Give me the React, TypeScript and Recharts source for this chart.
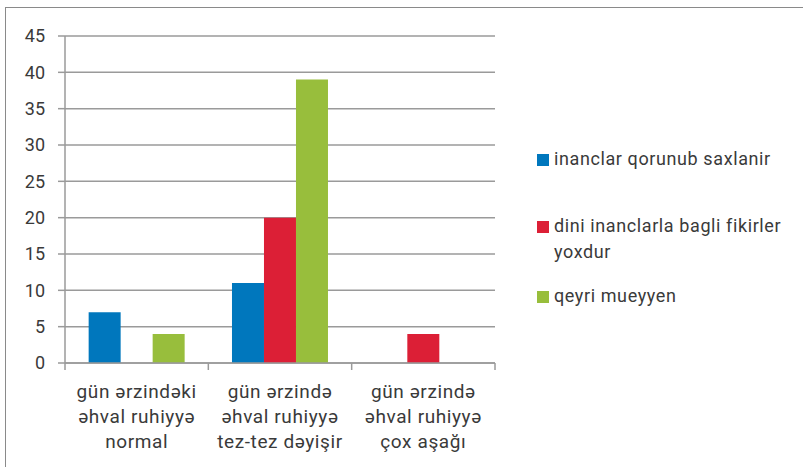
import { BarChart, Bar, XAxis, YAxis, CartesianGrid } from 'recharts';

const categories = [
  'gün ərzindəki\nəhval ruhiyyə\nnormal',
  'gün ərzində\nəhval ruhiyyə\ntez-tez dəyişir',
  'gün ərzində\nəhval ruhiyyə\nçox aşağı',
];
const inanclar = [7, 11, 0];
const dini = [0, 20, 4];
const qeyri = [4, 39, 0];
const yTicks = [0, 5, 10, 15, 20, 25, 30, 35, 40, 45];

const seriesNames = ['inanclar qorunub saxlanir', 'dini inanclarla bagli fikirler yoxdur', 'qeyri mueyyen'];
const colors = ['#0077BD', '#DC1F36', '#98BE3C'];

const data = categories.map((name, i) => ({
  name,
  a: inanclar[i],
  b: dini[i],
  c: qeyri[i],
}));

const FONT = 'Roboto, sans-serif';
const GRID = '#9a9a9a';
const TEXT = '#3a3a3a';

// category label split on lines + boundary tick marks (Excel style)
const CategoryTick = (props: any) => {
  const { x, y, payload, index } = props;
  const half = payload?.offset || 71.7;
  const lines = String(payload.value).split('\n');
  return (
    <g>
      <line x1={x - half} x2={x - half} y1={y} y2={y + 7} stroke={GRID} strokeWidth={1.5} />
      {index === categories.length - 1 && (
        <line x1={x + half} x2={x + half} y1={y} y2={y + 7} stroke={GRID} strokeWidth={1.5} />
      )}
      <text x={x} y={y} textAnchor="middle" fontFamily={FONT} fontSize={19} letterSpacing={0.6} fill={TEXT}>
        {lines.map((l, i) => (
          <tspan key={i} x={x} dy={i === 0 ? 35 : 25}>
            {l}
          </tspan>
        ))}
      </text>
    </g>
  );
};

const LegendBox = () => (
  <div style={{ position: 'absolute', left: 537, top: 146, width: 262, fontFamily: FONT, fontSize: 18, letterSpacing: 0.6, color: TEXT }}>
    {seriesNames.map((n, i) => (
      <div key={n} style={{ display: 'flex', alignItems: 'flex-start', lineHeight: '26px', marginBottom: i === 0 ? 41 : 18 }}>
        <span style={{ display: 'inline-block', width: 12, height: 12, background: colors[i], marginTop: 8, marginRight: 5, flex: 'none' }} />
        <span>{n}</span>
      </div>
    ))}
  </div>
);

export default function App() {
  return (
    <div style={{ position: 'absolute', left: 0, top: 0, width: 803, height: 467, background: '#fff', overflow: 'hidden' }}>
      <div style={{ position: 'absolute', left: 5, top: 7, width: 820, height: 480, borderLeft: '1.5px solid #8a8a8a', borderTop: '1.5px solid #8a8a8a' }} />
      <BarChart
        width={803}
        height={467}
        data={data}
        margin={{ top: 36, right: 308, bottom: 74, left: 0 }}
        barCategoryGap="16.5%"
        barGap={0}
        style={{ position: 'absolute', left: 0, top: 0 }}
      >
        <CartesianGrid vertical={false} stroke={GRID} strokeWidth={1.5} />
        <XAxis
          dataKey="name"
          height={30}
          axisLine={{ stroke: GRID, strokeWidth: 1.5 }}
          tickLine={false}
          tickSize={0}
          tickMargin={0}
          tick={<CategoryTick />}
          interval={0}
        />
        <YAxis
          width={65}
          domain={[0, 45]}
          ticks={yTicks}
          interval={0}
          axisLine={{ stroke: GRID, strokeWidth: 1.5 }}
          tickLine={{ stroke: GRID, strokeWidth: 1.5 }}
          tickSize={7}
          tickMargin={13}
          tick={{ fontFamily: FONT, fontSize: 18, fill: TEXT }}
        />
        <Bar dataKey="a" name={seriesNames[0]} fill={colors[0]} isAnimationActive={false} />
        <Bar dataKey="b" name={seriesNames[1]} fill={colors[1]} isAnimationActive={false} />
        <Bar dataKey="c" name={seriesNames[2]} fill={colors[2]} isAnimationActive={false} />
      </BarChart>
      <LegendBox />
    </div>
  );
}
